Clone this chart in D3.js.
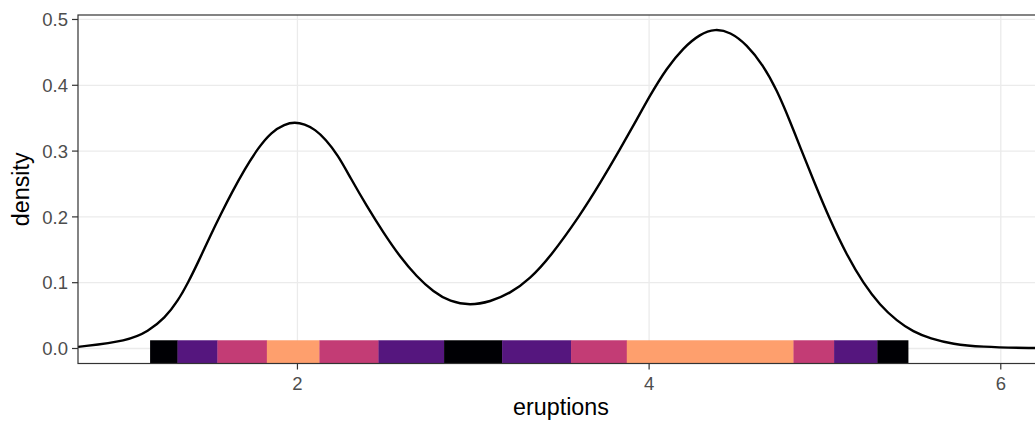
<!DOCTYPE html>
<html>
<head>
<meta charset="utf-8">
<script src="https://cdn.jsdelivr.net/npm/d3@7"></script>
<style>
  body { margin: 0; background: #fff; }
  svg { display: block; font-family: "Liberation Sans", Arial, sans-serif; }
</style>
</head>
<body>
<svg id="chart" width="1035" height="421"></svg>
<script>
// density curve
const curveX = [0.752, 1.037, 1.151, 1.246, 1.322, 1.378, 1.435, 1.511, 1.568, 1.625, 1.701, 1.777, 1.852, 1.928, 1.985,
  2.040, 2.100, 2.160, 2.230, 2.300, 2.395, 2.489, 2.584, 2.679, 2.773, 2.868, 2.982, 3.096, 3.209, 3.323, 3.437,
  3.608, 3.721, 3.835, 3.930, 4.006, 4.100, 4.195, 4.290, 4.375, 4.461, 4.555, 4.650, 4.726, 4.802,
  4.859, 4.934, 5.029, 5.124, 5.219, 5.313, 5.409, 5.503, 5.598, 5.730, 5.882, 6.166, 6.400];
const curveY = [0.0024, 0.0115, 0.026, 0.046, 0.073, 0.100, 0.131, 0.175, 0.206, 0.236, 0.273, 0.305, 0.329, 0.341, 0.344,
  0.341, 0.333, 0.318, 0.294, 0.260, 0.216, 0.176, 0.139, 0.109, 0.086, 0.071, 0.0655, 0.071, 0.0836, 0.106, 0.139,
  0.2026, 0.251, 0.303, 0.348, 0.385, 0.426, 0.457, 0.478, 0.486, 0.481, 0.462, 0.430, 0.393, 0.345,
  0.306, 0.256, 0.195, 0.142, 0.0988, 0.0658, 0.042, 0.0253, 0.0152, 0.0065, 0.0024, 0.0005, 0.0002];

// interval strip: breakpoints and colour level of each piece
const stripBreaks = [1.162, 1.318, 1.545, 1.826, 2.125, 2.461, 2.834, 3.164, 3.556, 3.873, 4.821, 5.052, 5.298, 5.473];
const stripLevels = [0, 1, 2, 3, 2, 1, 0, 1, 2, 3, 2, 1, 0];
const levelColors = ["#000004", "#55167e", "#c33c75", "#fe9f6d"];

const xTicks = [2, 4, 6];
const yTicks = [0, 0.1, 0.2, 0.3, 0.4, 0.5];

/*------------------- layout --------------------*/
const panel = { left: 78, top: 15, right: 1072, bottom: 363.5 };

const x = d3.scaleLinear().domain([0.752, 6.405]).range([panel.left, panel.right]);
const y = d3.scaleLinear().domain([-0.0228, 0.5068]).range([panel.bottom, panel.top]);

const svg = d3.select("#chart");

svg.append("clipPath").attr("id", "panel-clip")
  .append("rect")
  .attr("x", panel.left).attr("y", panel.top)
  .attr("width", panel.right - panel.left).attr("height", panel.bottom - panel.top);

const g = svg.append("g").attr("clip-path", "url(#panel-clip)");

// grid
g.selectAll("line.hgrid").data(yTicks).enter().append("line")
  .attr("x1", panel.left).attr("x2", panel.right)
  .attr("y1", d => y(d)).attr("y2", d => y(d))
  .attr("stroke", "#ebebeb").attr("stroke-width", 1.3);
g.selectAll("line.vgrid").data(xTicks).enter().append("line")
  .attr("y1", panel.top).attr("y2", panel.bottom)
  .attr("x1", d => x(d)).attr("x2", d => x(d))
  .attr("stroke", "#ebebeb").attr("stroke-width", 1.3);

// strip
const segs = stripLevels.map((lv, i) => ({ x0: stripBreaks[i], x1: stripBreaks[i + 1], lv }));
const stripTop = 0.0125;
g.selectAll("rect.seg").data(segs).enter().append("rect")
  .attr("x", d => x(d.x0))
  .attr("width", d => x(d.x1) - x(d.x0) + 0.3)
  .attr("y", y(stripTop))
  .attr("height", panel.bottom - y(stripTop))
  .attr("fill", d => levelColors[d.lv]);

// density line
const pts = curveX.map((v, i) => [v, curveY[i]]);
g.append("path")
  .datum(pts)
  .attr("d", d3.line().x(d => x(d[0])).y(d => y(d[1])).curve(d3.curveBasis))
  .attr("fill", "none")
  .attr("stroke", "#000")
  .attr("stroke-width", 2.4);

// panel border
svg.append("rect")
  .attr("x", panel.left).attr("y", panel.top)
  .attr("width", panel.right - panel.left).attr("height", panel.bottom - panel.top)
  .attr("fill", "none").attr("stroke", "#333333").attr("stroke-width", 1.2);

/*------------------- axes --------------------*/
const tickCol = "#333333";
const labCol = "#4d4d4d";

svg.selectAll("line.ytick").data(yTicks).enter().append("line")
  .attr("x1", panel.left - 6).attr("x2", panel.left)
  .attr("y1", d => y(d)).attr("y2", d => y(d))
  .attr("stroke", tickCol).attr("stroke-width", 1.2);
svg.selectAll("text.ylab").data(yTicks).enter().append("text")
  .attr("x", panel.left - 10)
  .attr("y", d => y(d))
  .attr("dy", "0.36em")
  .attr("text-anchor", "end")
  .attr("font-size", 18.5)
  .attr("fill", labCol)
  .text(d => d3.format(".1f")(d));

svg.selectAll("line.xtick").data(xTicks).enter().append("line")
  .attr("y1", panel.bottom).attr("y2", panel.bottom + 6)
  .attr("x1", d => x(d)).attr("x2", d => x(d))
  .attr("stroke", tickCol).attr("stroke-width", 1.2);
svg.selectAll("text.xlab").data(xTicks).enter().append("text")
  .attr("x", d => x(d))
  .attr("y", 390)
  .attr("text-anchor", "middle")
  .attr("font-size", 18.5)
  .attr("fill", labCol)
  .text(d => d);

// titles
svg.append("text")
  .attr("x", 561).attr("y", 415)
  .attr("text-anchor", "middle")
  .attr("font-size", 23.3)
  .attr("fill", "#000")
  .text("eruptions");
svg.append("text")
  .attr("transform", `translate(29,${(panel.top + panel.bottom) / 2}) rotate(-90)`)
  .attr("text-anchor", "middle")
  .attr("font-size", 23.3)
  .attr("fill", "#000")
  .text("density");
</script>
</body>
</html>
